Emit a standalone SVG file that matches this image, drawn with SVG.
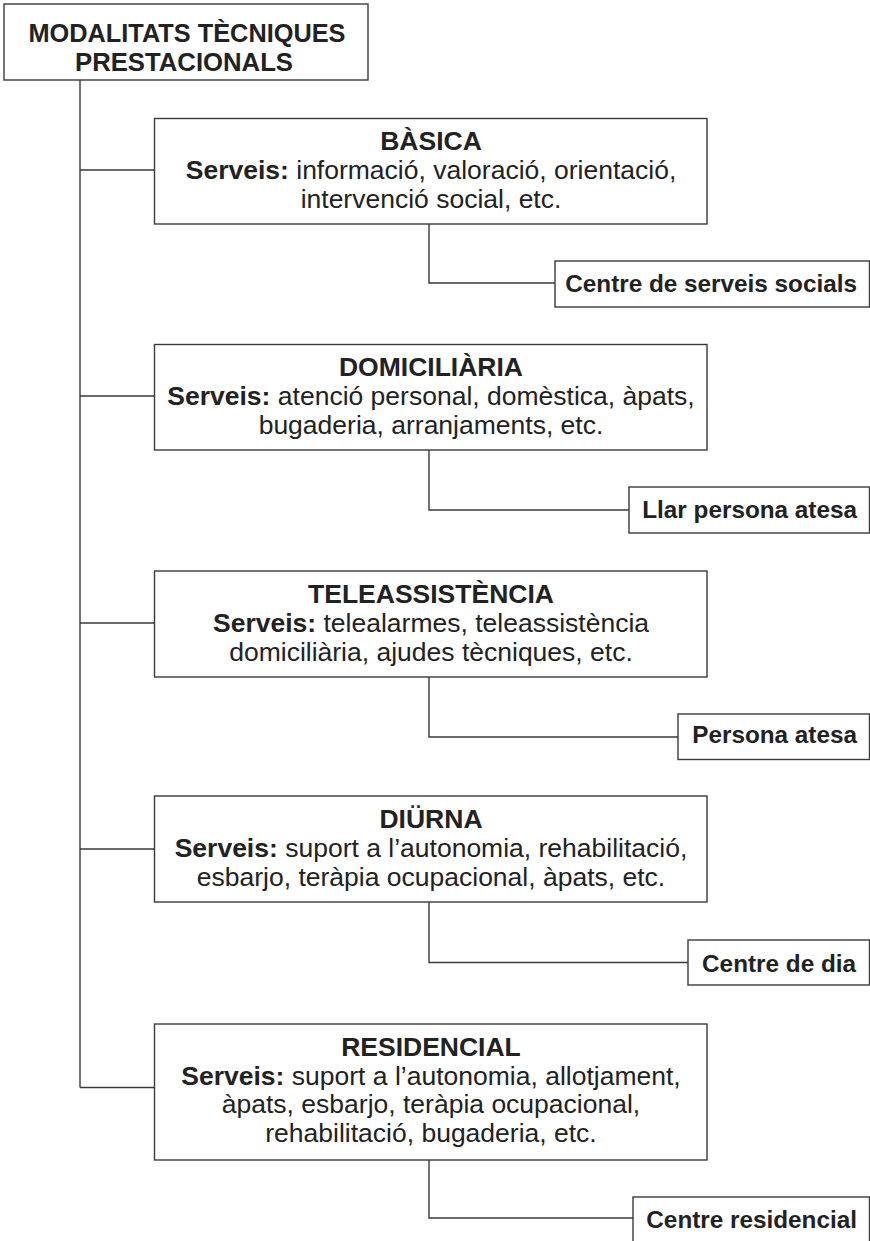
<svg xmlns="http://www.w3.org/2000/svg" width="870" height="1241" viewBox="0 0 870 1241">
<style>
.box{fill:#fff;stroke:#3a3a3a;stroke-width:1.4}
.ln{fill:none;stroke:#3a3a3a;stroke-width:1.4}
text{font-family:"Liberation Sans",Arial,Helvetica,sans-serif;fill:#222}
.t{font-size:25px;font-weight:bold;text-anchor:middle}
.h{font-size:26.5px;font-weight:bold;text-anchor:middle}
.b{font-size:26.5px;text-anchor:middle}
.b tspan.k{font-weight:bold}
.s{font-size:24.3px;font-weight:bold;text-anchor:end}
</style>
<rect width="870" height="1241" fill="#fff"/>
<g id="connectors">
<path class="ln" d="M80 80V1087.5M80 170H154.5M80 396H154.5M80 623H154.5M80 849H154.5M80 1087.5H154.5"/>
<path class="ln" d="M429 224V283H555M429 450V510H629M429 677V737H678M429 902V962.5H688M429 1160V1218H633"/>
</g>
<g id="root">
<rect class="box" x="4" y="4" width="364" height="76"/>
<text class="t" x="187" y="42" textLength="317" lengthAdjust="spacingAndGlyphs">MODALITATS TÈCNIQUES</text>
<text class="t" x="184" y="71" textLength="218" lengthAdjust="spacingAndGlyphs">PRESTACIONALS</text>
</g>
<g id="basica">
<rect class="box" x="154.5" y="118.5" width="552.5" height="105.5"/>
<text class="h" x="431" y="150">BÀSICA</text>
<text class="b" x="431" y="179"><tspan class="k">Serveis:</tspan> informació, valoració, orientació,</text>
<text class="b" x="431" y="208">intervenció social, etc.</text>
</g>
<g id="centre-serveis-socials">
<rect class="box" x="555" y="261" width="314.5" height="46"/>
<text class="s" x="857" y="292">Centre de serveis socials</text>
</g>
<g id="domiciliaria">
<rect class="box" x="154.5" y="344.5" width="552.5" height="105.5"/>
<text class="h" x="431" y="376">DOMICILIÀRIA</text>
<text class="b" x="431" y="405"><tspan class="k">Serveis:</tspan> atenció personal, domèstica, àpats,</text>
<text class="b" x="431" y="434">bugaderia, arranjaments, etc.</text>
</g>
<g id="llar-persona-atesa">
<rect class="box" x="629" y="487" width="240.5" height="46"/>
<text class="s" x="857" y="518">Llar persona atesa</text>
</g>
<g id="teleassistencia">
<rect class="box" x="154.5" y="571" width="552.5" height="106"/>
<text class="h" x="431" y="603">TELEASSISTÈNCIA</text>
<text class="b" x="431" y="632"><tspan class="k">Serveis:</tspan> telealarmes, teleassistència</text>
<text class="b" x="431" y="661">domiciliària, ajudes tècniques, etc.</text>
</g>
<g id="persona-atesa">
<rect class="box" x="678" y="714" width="191.5" height="45.5"/>
<text class="s" x="857" y="743">Persona atesa</text>
</g>
<g id="diurna">
<rect class="box" x="154.5" y="796" width="552.5" height="106"/>
<text class="h" x="431" y="828">DIÜRNA</text>
<text class="b" x="431" y="857"><tspan class="k">Serveis:</tspan> suport a l’autonomia, rehabilitació,</text>
<text class="b" x="431" y="886">esbarjo, teràpia ocupacional, àpats, etc.</text>
</g>
<g id="centre-de-dia">
<rect class="box" x="688" y="940" width="181.5" height="45"/>
<text class="s" x="856" y="971.5">Centre de dia</text>
</g>
<g id="residencial">
<rect class="box" x="154.5" y="1024" width="552.5" height="136"/>
<text class="h" x="431" y="1056">RESIDENCIAL</text>
<text class="b" x="431" y="1084.5"><tspan class="k">Serveis:</tspan> suport a l’autonomia, allotjament,</text>
<text class="b" x="431" y="1113">àpats, esbarjo, teràpia ocupacional,</text>
<text class="b" x="431" y="1141.5">rehabilitació, bugaderia, etc.</text>
</g>
<g id="centre-residencial">
<rect class="box" x="633" y="1197" width="236.5" height="50"/>
<text class="s" x="857" y="1227.5">Centre residencial</text>
</g>
</svg>
